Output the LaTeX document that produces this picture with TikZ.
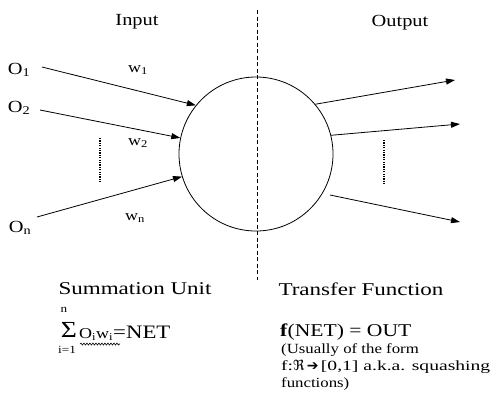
\documentclass[tikz,border=0pt]{standalone}
\usepackage{fontspec}
\setmainfont{Liberation Serif}[FakeStretch=1.2]
\newfontfamily\widefont{Liberation Serif}[FakeStretch=1.28]
\newfontfamily\widerfont{Liberation Serif}[FakeStretch=1.4]
\newfontfamily\symfont{DejaVu Sans}
\usetikzlibrary{arrows.meta,decorations.pathmorphing}
\begin{document}
\begin{tikzpicture}[x=1pt,y=-1pt,
  every node/.style={inner sep=0pt},
  lab/.style={font=\fontsize{17}{20}\selectfont},
  unitlab/.style={font=\widefont\fontsize{18}{21}\selectfont},
  wlab/.style={font=\fontsize{15}{18}\selectfont},
  body/.style={font=\fontsize{14}{17}\selectfont, anchor=base west},
  tiny/.style={font=\fontsize{11}{12}\selectfont},
  arr/.style={line width=0.8pt, -{Triangle[length=9pt,width=6pt]}},
  dotline/.style={line width=1.3pt, dash pattern=on 1.2pt off 1.2pt},
  divider/.style={line width=0.8pt, dash pattern=on 4pt off 2.5pt}]
\useasboundingbox (0,0) rectangle (502,416);

% headings
\node[lab] (inlab) at (137,22) {Input};
\node[lab] (outlab) at (400,23) {Output};

% neuron body and the divider between summation and transfer
\node[draw, circle, line width=0.8pt, minimum size=154pt] (neuron) at (256,154) {};
\coordinate (dtop) at (257,10);
\coordinate (dbot) at (257,280);
\draw[divider] (dtop) -- (dbot);

% inputs
\node[lab] (o1) at (19,70) {O\textsubscript{1}};
\node[lab] (o2) at (19,108) {O\textsubscript{2}};
\node[lab] (on) at (20,228) {O\textsubscript{n}};
\coordinate (s1) at (42,67);
\coordinate (s2) at (40,110);
\coordinate (s3) at (37,217);
\draw[arr] (s1) -- (neuron.141);
\draw[arr] (s2) -- (neuron.168);
\draw[arr] (s3) -- (neuron.197);

% weights
\node[wlab] (w1) at (138,70) {w\textsubscript{1}};
\node[wlab] (w2) at (138,143) {w\textsubscript{2}};
\node[wlab] (wn) at (135,218) {w\textsubscript{n}};

% elided inputs / outputs
\coordinate (ldt) at (100,138);
\coordinate (ldb) at (100,183);
\draw[dotline] (ldt) -- (ldb);
\coordinate (rdt) at (384,140);
\coordinate (rdb) at (384,185);
\draw[dotline] (rdt) -- (rdb);

% outputs
\coordinate (e1) at (455,80);
\coordinate (e2) at (460,124);
\coordinate (t3) at (330,195);
\coordinate (e3) at (460,222);
\draw[arr] (neuron.40) -- (e1);
\draw[arr] (neuron.14) -- (e2);
\draw[arr] (t3) -- (e3);

% summation unit
\node[unitlab] (sumlab) at (135,289) {Summation Unit};
\node[tiny] (sumtop) at (64,310) {n};
\node[font=\fontsize{23}{25}\selectfont] (sigma) at (69,330) {Σ};
\node[tiny] (sumbot) at (67,350) {i=1};
\node[anchor=base west] (sumtext) at (79,338)
  {\fontsize{15}{18}\selectfont O\textsubscript{i}w\textsubscript{i}\fontsize{19}{22}\selectfont=NET};
\draw[line width=0.6pt, decorate, decoration={snake, amplitude=1pt, segment length=3pt}]
  (80,344) -- (120,344);

% transfer function
\node[unitlab] (tflab) at (361,289) {Transfer Function};
\node[anchor=base west, font=\fontsize{18}{21}\selectfont] (fnet) at (280,336) {\textbf{f}(NET) = OUT};
\node[body] (l1) at (281,353) {(Usually of the form};
\node[body, font=\widerfont\fontsize{14}{17}\selectfont] (l2) at (281,370)
  {f:{\symfont ℜ}\,{\symfont ➔}\,[0,1] a.k.a. squashing};
\node[body] (l3) at (281,387) {functions)};
\end{tikzpicture}
\end{document}
